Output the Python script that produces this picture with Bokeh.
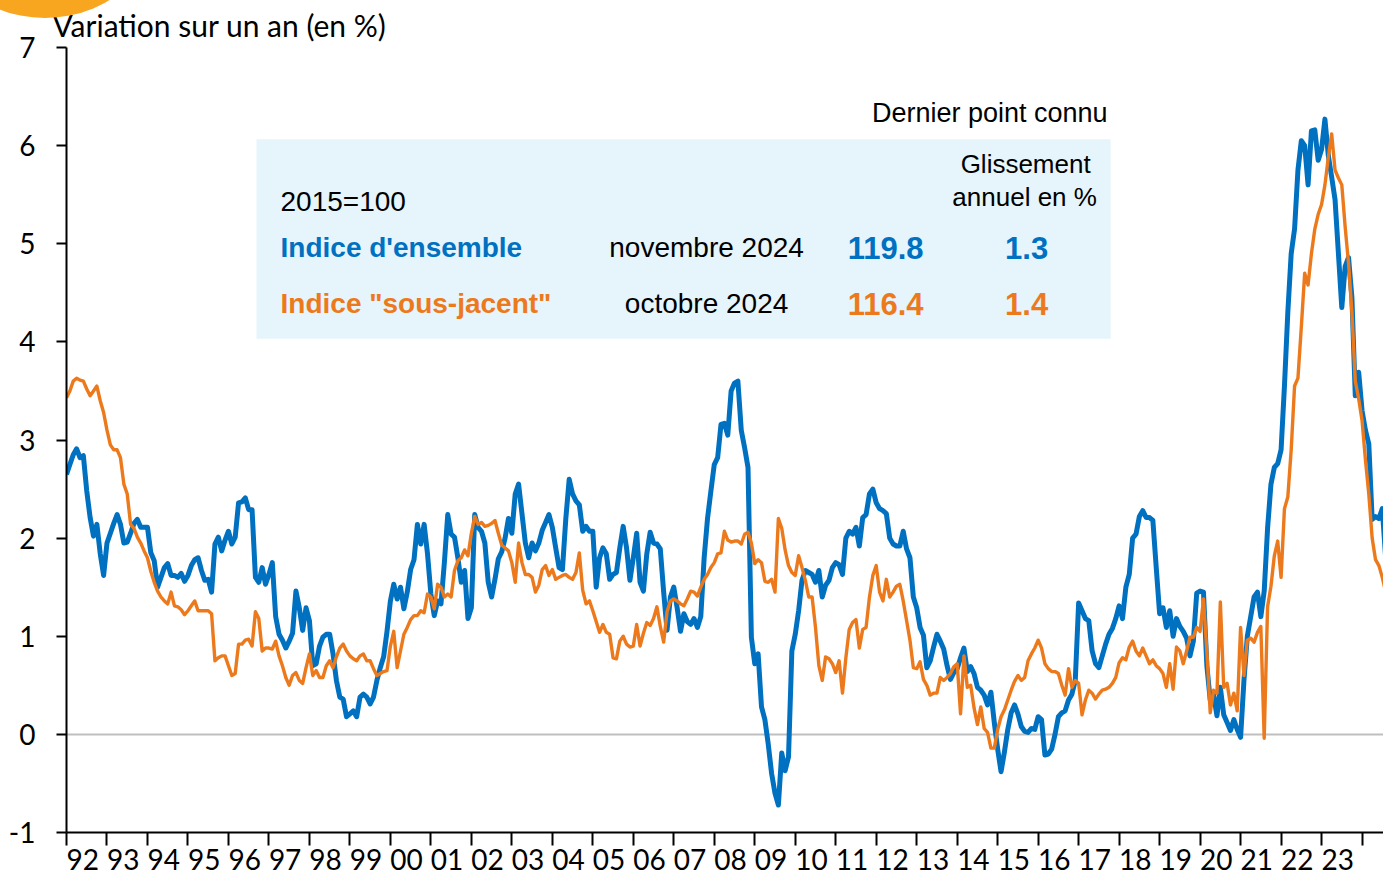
from bokeh.plotting import figure
from bokeh.models import Range1d, FixedTicker, Span, BoxAnnotation, Label, CustomJSTickFormatter, Div
from bokeh.layouts import row
from bokeh.embed import file_html
from bokeh.resources import INLINE

# ---------------- data (monthly, year-on-year change in %) ----------------
START_YEAR = 1992

ensemble = [
    2.65, 2.75, 2.85, 2.91, 2.82, 2.84, 2.48, 2.21, 2.02, 2.14, 1.84, 1.62,   # 1992
    1.95, 2.05, 2.15, 2.24, 2.14, 1.95, 1.96, 2.05, 2.15, 2.19, 2.11, 2.11,   # 1993
    2.11, 1.85, 1.77, 1.50, 1.60, 1.70, 1.74, 1.62, 1.62, 1.60, 1.64, 1.56,   # 1994
    1.62, 1.72, 1.78, 1.80, 1.67, 1.57, 1.58, 1.45, 1.94, 2.01, 1.87, 1.98,   # 1995
    2.07, 1.94, 2.01, 2.36, 2.37, 2.41, 2.29, 2.29, 1.60, 1.55, 1.70, 1.53,   # 1996
    1.63, 1.75, 1.20, 1.02, 0.96, 0.88, 0.95, 1.03, 1.46, 1.29, 1.06, 1.29,   # 1997
    1.16, 0.70, 0.72, 0.90, 0.99, 1.02, 1.02, 0.82, 0.55, 0.38, 0.36, 0.18,   # 1998
    0.21, 0.24, 0.18, 0.38, 0.41, 0.38, 0.31, 0.38, 0.55, 0.68, 0.79, 1.05,   # 1999
    1.36, 1.53, 1.38, 1.50, 1.28, 1.45, 1.68, 1.78, 2.14, 1.94, 2.14, 1.84,   # 2000
    1.43, 1.21, 1.36, 1.33, 1.75, 2.24, 2.04, 2.01, 1.80, 1.55, 1.67, 1.18,   # 2001
    1.29, 2.24, 2.11, 2.07, 1.95, 1.55, 1.40, 1.58, 1.79, 1.86, 2.00, 2.20,   # 2002
    2.05, 2.45, 2.55, 2.25, 1.95, 1.80, 1.95, 1.87, 1.95, 2.08, 2.16, 2.24,   # 2003
    2.11, 1.90, 1.70, 1.68, 2.20, 2.60, 2.45, 2.38, 2.34, 2.07, 2.12, 2.07,   # 2004
    2.07, 1.50, 1.80, 1.90, 1.84, 1.58, 1.63, 1.65, 1.90, 2.12, 1.90, 1.57,   # 2005
    1.80, 2.05, 1.55, 1.46, 1.84, 2.06, 1.95, 1.94, 1.89, 1.45, 1.06, 1.40,   # 2006
    1.50, 1.29, 1.05, 1.23, 1.15, 1.12, 1.18, 1.09, 1.20, 1.80, 2.20, 2.48,   # 2007
    2.75, 2.82, 3.16, 3.17, 3.05, 3.50, 3.58, 3.60, 3.10, 2.92, 2.72, 0.99,   # 2008
    0.72, 0.82, 0.28, 0.15, -0.10, -0.40, -0.60, -0.72, -0.19, -0.37, -0.23, 0.85,  # 2009
    1.02, 1.26, 1.57, 1.67, 1.65, 1.63, 1.55, 1.67, 1.40, 1.52, 1.57, 1.70,   # 2010
    1.75, 1.73, 1.63, 2.00, 2.07, 2.04, 2.11, 1.92, 2.21, 2.24, 2.45, 2.50,   # 2011
    2.36, 2.30, 2.28, 2.25, 2.00, 1.94, 1.92, 1.92, 2.07, 1.89, 1.80, 1.40,   # 2012
    1.29, 1.09, 1.01, 0.68, 0.75, 0.89, 1.02, 0.95, 0.87, 0.70, 0.56, 0.63,   # 2013
    0.67, 0.78, 0.88, 0.64, 0.69, 0.62, 0.48, 0.45, 0.40, 0.30, 0.43, 0.12,   # 2014
    -0.15, -0.38, -0.18, 0.05, 0.22, 0.30, 0.21, 0.08, 0.03, 0.02, 0.06, 0.05,  # 2015
    0.18, 0.15, -0.21, -0.20, -0.15, 0.00, 0.18, 0.22, 0.24, 0.35, 0.41, 0.55,  # 2016
    1.34, 1.26, 1.18, 1.16, 0.85, 0.72, 0.68, 0.80, 0.92, 1.02, 1.08, 1.18,   # 2017
    1.31, 1.18, 1.50, 1.63, 2.00, 2.04, 2.22, 2.28, 2.21, 2.21, 2.18, 1.70,   # 2018
    1.23, 1.29, 1.09, 1.26, 1.00, 1.18, 1.10, 1.05, 0.98, 0.80, 0.95, 1.44,   # 2019
    1.46, 1.45, 0.70, 0.35, 0.40, 0.19, 0.48, 0.20, 0.12, 0.04, 0.15, 0.05,   # 2020
    -0.03, 0.55, 1.00, 1.20, 1.40, 1.45, 1.20, 1.46, 2.10, 2.55, 2.72, 2.76,  # 2021
    2.90, 3.55, 4.30, 4.90, 5.15, 5.75, 6.05, 6.00, 5.60, 6.15, 6.16, 5.85,   # 2022
    5.96, 6.27, 5.90, 5.68, 5.45, 4.90, 4.35, 4.77, 4.86, 4.45, 3.45, 3.69,   # 2023
    3.30, 3.10, 2.96, 2.19, 2.22, 2.20, 2.30, 1.80,                           # 2024
]

sous_jacent = [
    3.43, 3.50, 3.60, 3.63, 3.61, 3.60, 3.52, 3.45, 3.50, 3.55, 3.40, 3.28,   # 1992
    3.10, 2.95, 2.90, 2.90, 2.82, 2.55, 2.45, 2.14, 2.10, 2.01, 1.95, 1.87,   # 1993
    1.80, 1.66, 1.55, 1.46, 1.40, 1.36, 1.33, 1.45, 1.31, 1.30, 1.27, 1.22,   # 1994
    1.26, 1.31, 1.36, 1.26, 1.26, 1.26, 1.26, 1.23, 0.75, 0.78, 0.80, 0.80,   # 1995
    0.70, 0.60, 0.62, 0.92, 0.92, 0.96, 0.97, 0.90, 1.25, 1.18, 0.85, 0.88,   # 1996
    0.88, 0.87, 0.95, 0.80, 0.70, 0.58, 0.50, 0.60, 0.63, 0.55, 0.52, 0.68,   # 1997
    0.82, 0.60, 0.65, 0.58, 0.58, 0.70, 0.75, 0.68, 0.79, 0.88, 0.92, 0.85,   # 1998
    0.80, 0.77, 0.75, 0.80, 0.82, 0.75, 0.75, 0.67, 0.60, 0.62, 0.64, 0.65,   # 1999
    0.90, 1.05, 0.68, 0.85, 1.02, 1.09, 1.17, 1.21, 1.21, 1.26, 1.24, 1.43,   # 2000
    1.40, 1.28, 1.53, 1.50, 1.40, 1.43, 1.40, 1.67, 1.77, 1.80, 1.88, 1.82,   # 2001
    2.05, 2.22, 2.14, 2.16, 2.12, 2.13, 2.15, 2.18, 2.05, 1.93, 1.90, 1.87,   # 2002
    1.75, 1.55, 1.95, 1.75, 1.63, 1.63, 1.60, 1.45, 1.52, 1.68, 1.72, 1.62,   # 2003
    1.68, 1.58, 1.60, 1.62, 1.63, 1.60, 1.58, 1.65, 1.85, 1.47, 1.33, 1.36,   # 2004
    1.26, 1.15, 1.04, 1.12, 1.04, 1.02, 0.78, 0.77, 0.95, 1.00, 0.92, 0.89,   # 2005
    0.90, 1.12, 0.90, 1.03, 1.14, 1.11, 1.18, 1.30, 1.10, 0.94, 1.25, 1.36,   # 2006
    1.38, 1.36, 1.33, 1.31, 1.38, 1.46, 1.45, 1.41, 1.50, 1.58, 1.63, 1.70,   # 2007
    1.75, 1.84, 1.85, 2.07, 1.98, 1.96, 1.97, 1.97, 1.94, 2.04, 2.06, 1.95,   # 2008
    1.74, 1.78, 1.75, 1.56, 1.55, 1.58, 1.45, 2.20, 2.10, 1.88, 1.72, 1.65,   # 2009
    1.62, 1.82, 1.70, 1.57, 1.40, 1.40, 1.09, 0.70, 0.55, 0.79, 0.77, 0.72,   # 2010
    0.63, 0.75, 0.42, 0.78, 1.07, 1.14, 1.17, 0.88, 1.07, 1.09, 1.40, 1.62,   # 2011
    1.72, 1.45, 1.36, 1.58, 1.40, 1.45, 1.51, 1.53, 1.36, 1.16, 0.96, 0.68,   # 2012
    0.67, 0.74, 0.56, 0.50, 0.40, 0.42, 0.42, 0.58, 0.55, 0.58, 0.62, 0.69,   # 2013
    0.72, 0.21, 0.80, 0.48, 0.50, 0.27, 0.10, 0.28, 0.06, 0.02, -0.14, -0.14,  # 2014
    0.05, 0.18, 0.25, 0.35, 0.45, 0.54, 0.60, 0.55, 0.58, 0.75, 0.82, 0.88,   # 2015
    0.96, 0.88, 0.72, 0.67, 0.64, 0.64, 0.62, 0.50, 0.40, 0.67, 0.48, 0.55,   # 2016
    0.52, 0.20, 0.35, 0.45, 0.42, 0.36, 0.41, 0.45, 0.46, 0.48, 0.52, 0.58,   # 2017
    0.73, 0.78, 0.76, 0.89, 0.95, 0.85, 0.80, 0.88, 0.80, 0.72, 0.76, 0.70,   # 2018
    0.67, 0.62, 0.48, 0.72, 0.46, 0.89, 0.85, 0.72, 0.85, 0.99, 0.99, 1.09,   # 2019
    1.05, 1.38, 0.85, 0.22, 0.45, 0.42, 1.35, 0.48, 0.52, 0.30, 0.42, 0.24,   # 2020
    1.09, 0.60, 0.96, 0.98, 0.94, 1.04, 1.10, -0.04, 1.30, 1.51, 1.82, 1.97,  # 2021
    1.60, 2.30, 2.42, 2.90, 3.55, 3.63, 4.15, 4.70, 4.58, 4.90, 5.15, 5.30,   # 2022
    5.40, 5.60, 5.88, 6.12, 5.75, 5.67, 5.60, 5.17, 4.80, 4.30, 3.60, 3.42,   # 2023
    3.20, 2.80, 2.45, 2.00, 1.78, 1.72, 1.60, 1.45,                           # 2024
]

year_labels = ["92", "93", "94", "95", "96", "97", "98", "99", "00", "01", "02",
               "03", "04", "05", "06", "07", "08", "09", "10", "11", "12", "13",
               "14", "15", "16", "17", "18", "19", "20", "21", "22", "23"]

y_ticks = [-1, 0, 1, 2, 3, 4, 5, 6, 7]
y_tick_labels = ["-1", "0", "1", "2", "3", "4", "5", "6", "7"]

title_text = "Variation sur un an (en %)"
box_header = "Dernier point connu"
box_col_head = ["Glissement", "annuel en %"]
box_base = "2015=100"
series_names = ["Indice d'ensemble", 'Indice "sous-jacent"']
series_dates = ["novembre 2024", "octobre 2024"]
series_index = ["119.8", "116.4"]
series_yoy = ["1.3", "1.4"]

BLUE = "#0070C0"
ORANGE = "#EC7A1C"

months = [START_YEAR + i / 12 for i in range(len(ensemble))]

# ---------------- figure ----------------
p = figure(width=1383, height=875, output_backend="svg", toolbar_location=None,
           x_range=Range1d(1992, 2024.53), y_range=Range1d(-1, 7),
           min_border_left=66, min_border_right=0, min_border_top=45,
           min_border_bottom=43)
p.outline_line_color = None
p.xgrid.visible = False
p.ygrid.visible = False
p.background_fill_color = "white"

AX_FONT = "Lato"

# title (top-left, above the frame)
p.title.text = title_text
p.title.align = "left"
p.title.offset = -14
p.title.standoff = 9
p.title.text_font = AX_FONT
p.title.text_font_size = "30px"
p.title.text_font_style = "normal"
p.title.text_color = "black"

# x axis: minor ticks on year boundaries, labels between
year_starts = list(range(START_YEAR, START_YEAR + len(year_labels) + 1))
label_pos = [y + 0.4 for y in range(START_YEAR, START_YEAR + len(year_labels))]
p.xaxis.ticker = FixedTicker(ticks=label_pos, minor_ticks=year_starts)
p.xaxis.formatter = CustomJSTickFormatter(
    args=dict(labels=year_labels, start=START_YEAR),
    code="const i = Math.floor(tick) - start; return (i >= 0 && i < labels.length) ? labels[i] : '';")
p.xaxis.axis_line_color = "black"
p.xaxis.axis_line_width = 2
p.xaxis.major_tick_out = 0
p.xaxis.major_tick_in = 0
p.xaxis.minor_tick_out = 13
p.xaxis.minor_tick_in = 0
p.xaxis.minor_tick_line_color = "black"
p.xaxis.minor_tick_line_width = 2
p.xaxis.major_label_text_font = AX_FONT
p.xaxis.major_label_text_font_size = "28px"
p.xaxis.major_label_text_color = "black"
p.xaxis.major_label_standoff = 3

p.yaxis.ticker = FixedTicker(ticks=y_ticks)
p.yaxis.major_label_overrides = {t: s for t, s in zip(y_ticks, y_tick_labels)}
p.yaxis.axis_line_color = "black"
p.yaxis.axis_line_width = 2
p.yaxis.major_tick_out = 10
p.yaxis.major_tick_in = 0
p.yaxis.major_tick_line_width = 2
p.yaxis.major_tick_line_color = "black"
p.yaxis.minor_tick_out = 0
p.yaxis.minor_tick_in = 0
p.yaxis.major_label_text_font = AX_FONT
p.yaxis.major_label_text_font_size = "28px"
p.yaxis.major_label_text_color = "black"
p.yaxis.major_label_standoff = 21

# zero line
p.add_layout(Span(location=0, dimension="width", line_color="#BFBFBF",
                  line_width=2, level="underlay"))

# legend box
p.add_layout(BoxAnnotation(left=1996.694, right=2017.791, bottom=4.032, top=6.065,
                           fill_color="#E6F4FC", fill_alpha=1.0, line_alpha=0,
                           level="underlay"))

# series
p.line(months, ensemble, line_color=BLUE, line_width=5, line_join="round")
p.line(months, sous_jacent, line_color=ORANGE, line_width=3.4, line_join="round")

BOX_FONT = "Liberation Sans"

def lab(x, y, text, size, color="black", align="left", bold=False, font=BOX_FONT):
    p.add_layout(Label(x=x, y=y, text=text, text_font=font, text_font_size=size,
                       text_color=color, text_align=align, text_baseline="middle",
                       text_font_style="bold" if bold else "normal"))

lab(2017.716, 6.329, box_header, "27px", align="right")
lab(2015.691, 5.811, box_col_head[0], "26px", align="center")
lab(2015.666, 5.475, box_col_head[1], "26px", align="center")
lab(1997.287, 5.435, box_base, "28px")
rows_y = [4.957, 4.388]
colors = [BLUE, ORANGE]
for i in range(2):
    lab(1997.287, rows_y[i], series_names[i], "28px", colors[i], bold=True)
    lab(2007.810, rows_y[i], series_dates[i], "28px", align="center")
    lab(2012.232, rows_y[i], series_index[i], "31px", colors[i], align="center", bold=True)
    lab(2015.715, rows_y[i], series_yoy[i], "31px", colors[i], align="center", bold=True)

# decorative orange disc in the page's top-left corner (fixed-position element)
corner = Div(text='<div style="position:fixed;left:-81px;top:-234px;width:252px;'
                  'height:252px;border-radius:50%;background:#F8A51F;z-index:10;"></div>',
             width=0, height=0)

layout = row(p, corner)
open("out.html", "w").write(file_html(layout, INLINE))
